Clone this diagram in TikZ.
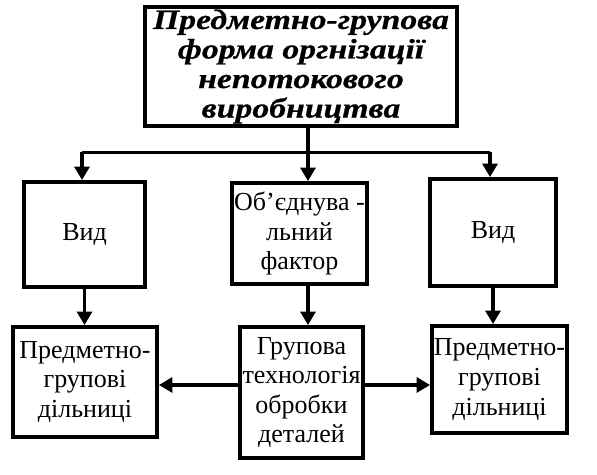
\documentclass[tikz,border=0pt]{standalone}
\usepackage{fontspec}
\setmainfont{Liberation Serif}
\newfontfamily\headfont[FakeStretch=1.2,FakeBold=0.6]{Liberation Serif}
\usepackage{tikz}
\usetikzlibrary{arrows.meta,positioning,calc}

\begin{document}
\begin{tikzpicture}[
  box/.style={draw,line width=2.2pt,align=center,inner sep=1pt,font=\fontsize{14.8}{16.8}\selectfont},
  headbox/.style={box,font=\headfont\fontsize{16}{16.8}\selectfont\bfseries\itshape},
  line/.style={line width=2pt},
  arrow/.style={line,-{Triangle[length=2.7mm,width=3mm]}}
]
\useasboundingbox (0,0) rectangle (11.94,9.5);
\node[headbox,minimum width=6.24cm,minimum height=2.38cm] (form) at (6.02,8.17) {Предметно-групова\\форма оргнізації\\непотокового\\виробництва};
\node[box,minimum width=2.42cm,minimum height=2.1cm] (vidl) at (1.69,4.81) {Вид};
\node[box,minimum width=2.66cm,minimum height=2.02cm] (factor) at (5.99,4.83) {Об’єднува -\\льний\\фактор};
\node[box,minimum width=2.52cm,minimum height=2.14cm] (vidr) at (9.86,4.85) {Вид};
\node[box,minimum width=2.88cm,minimum height=2.2cm] (pgl) at (1.7,1.86) {Предметно-\\групові\\дільниці};
\node[box,minimum width=2.46cm,minimum height=2.62cm] (tech) at (6.03,1.65) {Групова\\технологія\\обробки\\деталей};
\node[box,minimum width=2.7cm,minimum height=2.14cm] (pgr) at (9.99,1.91) {Предметно-\\групові\\дільниці};
% branch points on the distribution line
\coordinate (jl) at (1.64,6.45);
\coordinate (jm) at (6.16,6.45);
\coordinate (jr) at (9.8,6.45);
\draw[line] (jl) -- (jr);
\draw[arrow] (jm |- form.south) -- (jm |- factor.north);
\draw[arrow] (jl) -- (jl |- vidl.north);
\draw[arrow] (jr) -- (jr |- vidr.north);
\draw[arrow] (vidl.south) -- (vidl.south |- pgl.north);
\draw[arrow] (jm |- factor.south) -- (jm |- tech.north);
\draw[arrow] (vidr.south) -- (vidr.south |- pgr.north);
\draw[arrow] ([yshift=1.5mm]tech.west) -- ([yshift=1.5mm]tech.west -| pgl.east);
\draw[arrow] ([yshift=1.5mm]tech.east) -- ([yshift=1.5mm]tech.east -| pgr.west);
\end{tikzpicture}
\end{document}
